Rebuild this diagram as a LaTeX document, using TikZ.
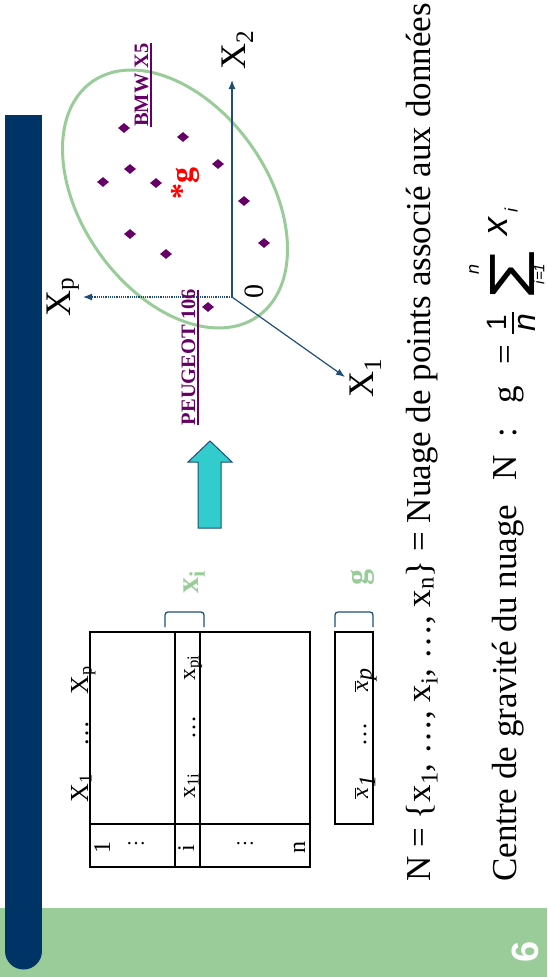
\documentclass[tikz,border=0pt]{standalone}
\usepackage{fontspec}
\setmainfont{Liberation Serif}
\newfontfamily\lsans{Liberation Sans}
\usetikzlibrary{shapes.geometric,arrows.meta}
\definecolor{navy}{HTML}{003366}
\definecolor{lgreen}{HTML}{99CC99}
\definecolor{purp}{HTML}{660066}
\definecolor{turq}{HTML}{33CCCC}
\definecolor{axblue}{HTML}{1F4E79}
\newcommand\fsz[1]{\fontsize{#1}{#1}\selectfont}
\begin{document}
\begin{tikzpicture}[x=1pt,y=-1pt,
  rt/.style={rotate=90, inner sep=0pt, anchor=base},
  dia/.style={diamond, fill=purp, inner sep=0pt, minimum width=12pt, minimum height=10pt},
  axis/.style={axblue, line width=1.2pt, -{Latex[length=9pt,width=7pt]}},
  bracket/.style={axblue, line width=1.3pt, rounded corners=3pt},
  tab/.style={line width=1.2pt}]
\useasboundingbox (0,0) rectangle (547,977);
% background bands
\fill[lgreen] (0,908) rectangle (547,977);
\fill[navy] (5,115) rectangle (42,951);
\fill[navy] (23.5,951) circle (18.5);
\node[rt, font=\lsans\bfseries\fsz{38}, text=white] (pg) at (538,952) {6};

% table
\draw[tab] (90,632) rectangle (310,867);
\draw[tab] (175,632) -- (175,867);
\draw[tab] (200,632) -- (200,867);
\draw[tab] (90,824) -- (310,824);
\node[rt, font=\fsz{26}] (hX1) at (88,788) {X\textsubscript{1}};
\node[rt, font=\fsz{26}] (hdots) at (88,733) {\dots};
\node[rt, font=\fsz{26}] (hXp) at (88,680) {X\textsubscript{p}};
\node[rt, font=\fsz{24}] (r1) at (110,847) {1};
\node[font=\fsz{20}, inner sep=0pt, anchor=base] (rd1) at (136,844) {\dots};
\node[rt, font=\fsz{24}] (ri) at (194,848) {i};
\node[font=\fsz{20}, inner sep=0pt, anchor=base] (rd2) at (245,844) {\dots};
\node[rt, font=\fsz{24}] (rn) at (305,847) {n};
\node[rt, font=\fsz{24}] (x1i) at (195,786) {x\textsubscript{1i}};
\node[rt, font=\fsz{24}] (xdots) at (195,727) {\dots};
\node[rt, font=\fsz{24}] (xpi) at (195,668) {x\textsubscript{pi}};
% g row
\draw[tab] (335,632) rectangle (373,824);
\node[rt, font=\fsz{24}] (gb1) at (368,787) {$\overline{\textit{x}}_{\textit{1}}$};
\node[rt, font=\fsz{24}] (gbd) at (366,734) {\dots};
\node[rt, font=\fsz{24}] (gbp) at (368,680) {$\overline{\textit{x}}_{\textit{p}}$};
% brackets and labels
\draw[bracket] (165,627) -- (165,612) -- (204,612) -- (204,627);
\draw[bracket] (335,627) -- (335,612) -- (373,612) -- (373,627);
\node[rt, font=\fsz{32}\bfseries, text=lgreen] (lxi) at (198,582) {x\textsubscript{i}};
\node[rt, font=\fsz{32}\bfseries, text=lgreen] (lg) at (367,577) {g};

% block arrow
\filldraw[fill=turq, draw=axblue, line width=1pt] (198,528) -- (198,462) -- (188,462) -- (210,441) -- (232,462) -- (221,462) -- (221,528) -- cycle;

% ellipse
\draw[lgreen, line width=3pt, rotate around={-54.7:(175,199)}] (175,199) ellipse [x radius=143.6, y radius=93.1];

% axes
\coordinate (O) at (232,297);
\coordinate (x2e) at (232,80);
\coordinate (x1e) at (345,377);
\coordinate (xpe) at (83,297);
\draw[axis] (O) -- (x2e);
\draw[axis] (O) -- (x1e);
\draw[axis, densely dotted] (O) -- (xpe);
\node[rt, font=\fsz{36}] (lX2) at (245,50) {X\textsubscript{2}};
\node[rt, font=\fsz{36}] (lX1) at (373,378) {X\textsubscript{1}};
\node[rt, font=\fsz{36}] (lXp) at (70,297) {X\textsubscript{p}};
\node[rt, font=\fsz{28}] (l0) at (263,291) {0};

% points
\node[dia] (p1) at (124,128) {};
\node[dia] (p2) at (183,137) {};
\node[dia] (p3) at (130,169) {};
\node[dia] (p4) at (218,164) {};
\node[dia] (p5) at (103,182) {};
\node[dia] (p6) at (156,183) {};
\node[dia] (p7) at (244,201) {};
\node[dia] (p8) at (130,234) {};
\node[dia] (p9) at (264,243) {};
\node[dia] (p10) at (166,254) {};
\node[dia] (p11) at (208,307) {};
\node[rt, font=\fsz{32}\bfseries, text=red] (gstar) at (192,183) {*g};
\node[rt, font=\fsz{20.5}\bfseries, text=purp] (bmw) at (148,85) {BMW X5};
\draw[purp, line width=1.5pt] (151,43) -- (151,127);
\node[rt, font=\fsz{20.5}\bfseries, text=purp] (peu) at (195,357) {PEUGEOT 106};
\draw[purp, line width=1.5pt] (198,290) -- (198,425);

% text lines
\node[rt, anchor=base west, font=\fsz{35}] (l1) at (430,882) {N = \{x\textsubscript{1}, \dots, x\textsubscript{i}, \dots, x\textsubscript{n}\} = Nuage de points associé aux données};
\node[rt, anchor=base west, font=\fsz{35}] (l2) at (516,882) {Centre de gravité du nuage};
\node[rt, font=\fsz{35}] (fN) at (516,468) {N};
\node[rt, font=\fsz{35}] (fc) at (516,433) {:};
\node[rt, font=\fsz{35}] (fg) at (516,395) {g};
\node[rt, font=\fsz{35}] (feq) at (516,355) {=};
\node[rt, anchor=center, font=\lsans\fsz{28}] (fone) at (497,323) {1};
\draw[line width=1.5pt] (513,312) -- (513,334);
\node[rt, anchor=center, font=\lsans\itshape\fsz{32}] (fden) at (527,323) {n};
\node[rt, anchor=center] (fsum) at (512,274) {\resizebox{50pt}{44pt}{\lsans\char"03A3}};
\node[rt, anchor=center, font=\lsans\itshape\fsz{18}] (fsup) at (474,269) {n};
\node[rt, anchor=center, font=\lsans\itshape\fsz{15}] (fsub) at (539,274) {i=1};
\node[rt, anchor=center, font=\lsans\itshape\fsz{36}] (fx) at (498,226) {x};
\node[rt, anchor=center, font=\lsans\itshape\fsz{18}] (fxi) at (511,210) {i};
\end{tikzpicture}
\end{document}
